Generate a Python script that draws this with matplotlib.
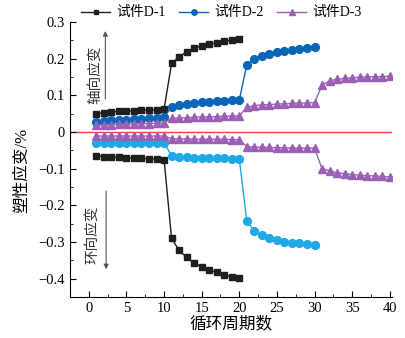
import matplotlib
matplotlib.use("Agg")
import matplotlib.pyplot as plt
import numpy as np

plt.rcParams['font.family'] = ['Liberation Serif', 'Noto Sans CJK SC']
plt.rcParams['axes.unicode_minus'] = True

cycles_d1 = list(range(1, 21))
cycles_d2 = list(range(1, 31))
cycles_d3 = list(range(1, 41))

d1_axial = [0.050, 0.053, 0.055, 0.056, 0.057, 0.058, 0.059, 0.060, 0.061, 0.062,
            0.187, 0.205, 0.219, 0.228, 0.235, 0.240, 0.243, 0.247, 0.251, 0.254]
d1_hoop = [-0.065, -0.067, -0.068, -0.069, -0.070, -0.071, -0.072, -0.073, -0.074, -0.075,
           -0.290, -0.323, -0.342, -0.358, -0.367, -0.376, -0.383, -0.390, -0.395, -0.399]
d2_axial = [0.028, 0.030, 0.032, 0.033, 0.034, 0.035, 0.036, 0.037, 0.038, 0.040,
            0.069, 0.074, 0.077, 0.079, 0.081, 0.083, 0.084, 0.085, 0.086, 0.087,
            0.183, 0.199, 0.208, 0.214, 0.219, 0.222, 0.225, 0.227, 0.229, 0.231]
d2_hoop = [-0.029, -0.029, -0.029, -0.029, -0.029, -0.029, -0.029, -0.029, -0.029, -0.029,
           -0.065, -0.068, -0.069, -0.070, -0.071, -0.071, -0.072, -0.072, -0.073, -0.073,
           -0.244, -0.269, -0.281, -0.288, -0.294, -0.299, -0.302, -0.304, -0.306, -0.308]
d3_axial = [0.018, 0.019, 0.020, 0.021, 0.021, 0.022, 0.023, 0.023, 0.024, 0.025,
            0.037, 0.038, 0.039, 0.040, 0.041, 0.041, 0.042, 0.043, 0.043, 0.044,
            0.067, 0.072, 0.074, 0.075, 0.076, 0.077, 0.078, 0.079, 0.079, 0.080,
            0.128, 0.139, 0.144, 0.146, 0.148, 0.149, 0.150, 0.151, 0.151, 0.152]
d3_hoop = [-0.011, -0.011, -0.011, -0.011, -0.011, -0.011, -0.011, -0.011, -0.011, -0.011,
           -0.018, -0.019, -0.019, -0.020, -0.020, -0.020, -0.020, -0.020, -0.021, -0.021,
           -0.040, -0.041, -0.042, -0.042, -0.043, -0.043, -0.044, -0.044, -0.044, -0.044,
           -0.100, -0.106, -0.111, -0.114, -0.116, -0.118, -0.119, -0.120, -0.121, -0.123]

labels = ['试件D-1', '试件D-2', '试件D-3']
c_d1 = '#1f1f1f'
c_d2 = '#0b66b8'
c_d2h = '#1ea8e6'
c_d3 = '#9b5fb4'

fig = plt.figure(figsize=(4.06, 3.38), dpi=100)
ax = fig.add_axes([70/406, 1-297/338, (392-70)/406, (297-22)/338])

ms = 5.0
l1, = ax.plot(cycles_d1, d1_axial, color=c_d1, marker='s', ms=ms, lw=1, label=labels[0])
ax.plot(cycles_d1, d1_hoop, color=c_d1, marker='s', ms=ms, lw=1)
l2, = ax.plot(cycles_d2, d2_axial, color=c_d2, marker='o', ms=ms+0.6, lw=1, label=labels[1])
ax.plot(cycles_d2, d2_hoop, color=c_d2h, marker='o', ms=ms+0.6, lw=1)
l3, = ax.plot(cycles_d3, d3_axial, color=c_d3, marker='^', ms=ms+0.6, lw=1, label=labels[2])
ax.plot(cycles_d3, d3_hoop, color=c_d3, marker='^', ms=ms+0.6, lw=1)

ax.axhline(0, color='#f04040', lw=1, zorder=0)

ax.set_xlim(-2.5, 40.3)
ax.set_ylim(-0.45, 0.3)
ax.set_xticks(np.arange(0, 41, 5))
ax.set_yticks([-0.4, -0.3, -0.2, -0.1, 0, 0.1, 0.2, 0.3])
ax.set_yticklabels(['−0.4', '−0.3', '−0.2', '−0.1', '0', '0.1', '0.2', '0.3'])
ax.set_xticks(np.arange(2.5, 40, 5), minor=True)
ax.set_yticks(np.arange(-0.45, 0.3, 0.1), minor=True)
ax.tick_params(which='both', direction='in', labelsize=10.5)
ax.tick_params(which='major', length=4)
ax.tick_params(which='minor', length=2.5)
for s in ['top', 'right']:
    ax.spines[s].set_visible(False)

ax.set_xlabel('循环周期数', fontsize=12, labelpad=1)
ax.set_ylabel('塑性应变/%', fontsize=12)
ax.yaxis.set_label_coords(-0.125, 0.462)

fig.legend(handles=[l1, l2, l3], loc='center', bbox_to_anchor=(0.545, 0.962), ncol=3,
           frameon=False, fontsize=10, handlelength=2.1, handletextpad=0.4,
           columnspacing=1.0, markerscale=0.7)

# annotations
ax.annotate('', xy=(2.2, 0.283), xytext=(2.2, 0.082),
            arrowprops=dict(arrowstyle='-|>', color='#555555', lw=0.8, mutation_scale=7))
ax.text(0.8, 0.155, '轴向应变', rotation=90, ha='center', va='center', fontsize=10.5, color='#333333')
ax.annotate('', xy=(2.3, -0.382), xytext=(2.3, -0.153),
            arrowprops=dict(arrowstyle='-|>', color='#555555', lw=0.8, mutation_scale=7))
ax.text(0.5, -0.28, '环向应变', rotation=90, ha='center', va='center', fontsize=10.5, color='#333333')

fig.savefig('out.png', dpi=100)
